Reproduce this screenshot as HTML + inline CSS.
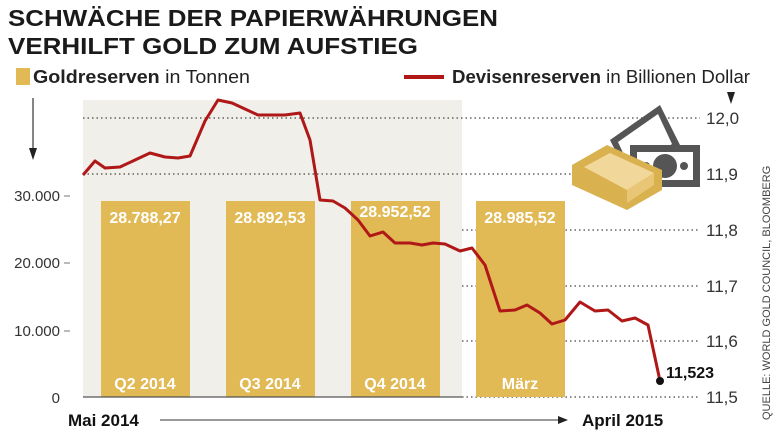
<!DOCTYPE html>
<html><head><meta charset="utf-8"><style>
body{margin:0;background:#fff;width:780px;height:438px;overflow:hidden}
svg{display:block}
text{font-family:"Liberation Sans",sans-serif}
</style></head><body>
<svg width="780" height="438" viewBox="0 0 780 438">
<text x="8" y="26" font-size="23" font-weight="bold" fill="#1a1a1a" textLength="490" lengthAdjust="spacingAndGlyphs">SCHWÄCHE DER PAPIERWÄHRUNGEN</text>
<text x="8" y="54" font-size="23" font-weight="bold" fill="#1a1a1a" textLength="410" lengthAdjust="spacingAndGlyphs">VERHILFT GOLD ZUM AUFSTIEG</text>
<rect x="16" y="68" width="14" height="17" fill="#e1b955"/>
<text x="33" y="83" font-size="18" fill="#222" textLength="217" lengthAdjust="spacingAndGlyphs"><tspan font-weight="bold">Goldreserven</tspan> in Tonnen</text>
<rect x="404" y="75" width="40" height="4" fill="#b01818"/>
<text x="452" y="83" font-size="18" fill="#222" textLength="298" lengthAdjust="spacingAndGlyphs"><tspan font-weight="bold">Devisenreserven</tspan> in Billionen Dollar</text>
<rect x="83" y="100" width="379" height="297" fill="#f0efea"/>
<g stroke="#444" stroke-width="1.3" stroke-dasharray="1.5,3">
<line x1="83" y1="118" x2="700" y2="118"/><line x1="83" y1="174" x2="700" y2="174"/>
<line x1="462" y1="230" x2="700" y2="230"/><line x1="462" y1="286" x2="700" y2="286"/>
<line x1="462" y1="341" x2="700" y2="341"/><line x1="462" y1="397" x2="700" y2="397"/>
</g>
<g fill="#e1b955">
<rect x="101" y="201" width="89" height="196"/><rect x="226" y="201" width="89" height="196"/>
<rect x="351" y="201" width="89" height="196"/><rect x="476" y="201" width="89" height="196"/>
</g>
<g font-size="16" font-weight="bold" fill="#fff" text-anchor="middle">
<text x="145" y="223">28.788,27</text><text x="270" y="223">28.892,53</text><text x="395" y="217">28.952,52</text><text x="520" y="223">28.985,52</text>
<text x="145" y="389">Q2 2014</text><text x="270" y="389">Q3 2014</text><text x="395" y="389">Q4 2014</text><text x="520" y="389">März</text>
</g>
<line x1="83" y1="397" x2="462" y2="397" stroke="#555" stroke-width="1.2"/>
<g font-size="15" fill="#333" text-anchor="end">
<text x="60" y="201">30.000</text><text x="60" y="268">20.000</text><text x="60" y="336">10.000</text><text x="60" y="403">0</text>
</g>
<g stroke="#777"><line x1="64" y1="196" x2="70" y2="196"/><line x1="64" y1="263" x2="70" y2="263"/><line x1="64" y1="331" x2="70" y2="331"/></g>
<line x1="33" y1="98" x2="33" y2="150" stroke="#333" stroke-width="1.2"/><polygon points="29,148 37,148 33,160" fill="#222"/>
<polygon points="727,92 735,92 731,104" fill="#222"/>
<g font-size="17" fill="#333">
<text x="706" y="124">12,0</text><text x="706" y="180">11,9</text><text x="706" y="236">11,8</text><text x="706" y="292">11,7</text><text x="706" y="347">11,6</text><text x="706" y="403">11,5</text>
</g>
<polyline fill="none" stroke="#b01818" stroke-width="3" stroke-linejoin="round" points="83,175 95,161 105,168 120,167 135,160 150,153 165,157 178,158 190,156 205,121 218,100 232,103 245,109 258,115 272,115 285,115 300,113 310,140 320,200 333,201 345,208 358,220 370,236 383,232 395,243 410,243 422,245 433,243 445,244 460,251 472,248 485,265 500,311 515,310 527,305 540,313 552,324 565,320 580,302 595,311 608,310 622,321 635,318 648,325 660,381"/>
<circle cx="660" cy="381" r="4" fill="#111"/>
<text x="666" y="378" font-size="16" font-weight="bold" fill="#111">11,523</text>
<text x="68" y="426" font-size="17" font-weight="bold" fill="#111">Mai 2014</text>
<line x1="160" y1="420" x2="560" y2="420" stroke="#333" stroke-width="1"/><polygon points="558,416 568,420 558,424" fill="#222"/>
<text x="582" y="426" font-size="17" font-weight="bold" fill="#111">April 2015</text>
<text transform="translate(770,420) rotate(-90)" font-size="11" fill="#444">QUELLE: WORLD GOLD COUNCIL, BLOOMBERG</text>
<g transform="translate(610,100)">
<polygon points="0,40 50,5 70,45 20,80" fill="#555"/>
<polygon points="8,42 48,14 62,44 22,72" fill="#fff"/>
<rect x="20" y="45" width="70" height="42" fill="#555"/>
<rect x="27" y="52" width="56" height="28" fill="#fff"/>
<circle cx="55" cy="66" r="12" fill="#555"/><circle cx="36" cy="66" r="4" fill="#555"/><circle cx="74" cy="66" r="4" fill="#555"/>
</g>
<g transform="translate(572,145)">
<polygon points="0,20 35,0 90,25 90,45 55,65 0,40" fill="#d9b14f"/>
<polygon points="12,22 38,8 82,28 55,45" fill="#f2d79a"/>
<polygon points="55,45 82,28 82,40 55,58" fill="#e9c675"/>
</g>
</svg>
</body></html>
